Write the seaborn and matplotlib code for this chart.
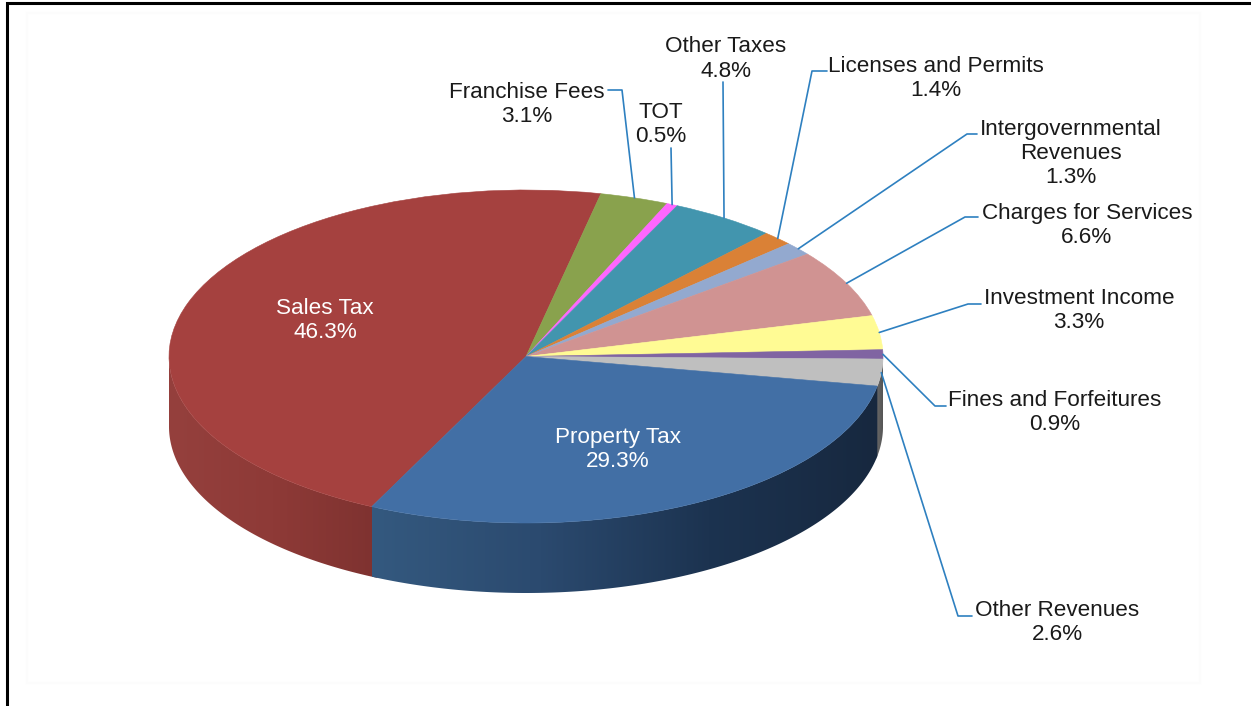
import numpy as np
import matplotlib
matplotlib.use("Agg")
import matplotlib.pyplot as plt
from matplotlib.patches import Polygon, Rectangle
import seaborn as sns

# values
categories = ["Sales Tax", "Franchise Fees", "TOT", "Other Taxes", "Licenses and Permits",
              "Intergovernmental\nRevenues", "Charges for Services", "Investment Income",
              "Fines and Forfeitures", "Other Revenues", "Property Tax"]
shares = [46.3, 3.1, 0.5, 4.8, 1.4, 1.3, 6.6, 3.3, 0.9, 2.6, 29.3]
slice_colors = ["#A5413F", "#89A24D", "#FF66FF", "#4295AE", "#DA8136", "#93A9CF",
                "#D09392", "#FFFB94", "#8064A2", "#BFBFBF", "#426FA5"]

# label centre (x, y of first line), in pixels
label_pos = {
    "Sales Tax": (325, 308),
    "Franchise Fees": (527, 92),
    "TOT": (661, 112),
    "Other Taxes": (726, 47),
    "Licenses and Permits": (936, 66.5),
    "Intergovernmental\nRevenues": (1071, 129),
    "Charges for Services": (1087, 213),
    "Investment Income": (1079, 298),
    "Fines and Forfeitures": (1055, 400),
    "Other Revenues": (1057, 610),
    "Property Tax": (618, 437),
}
# leader line: start and optional elbow, the end comes from the slice
leader_pts = {
    "Franchise Fees": [(608, 90), (622, 90)],
    "TOT": [(671, 148)],
    "Other Taxes": [(723, 82)],
    "Licenses and Permits": [(827, 71), (812, 71)],
    "Intergovernmental\nRevenues": [(977, 134), (967, 134)],
    "Charges for Services": [(978, 217), (965, 217)],
    "Investment Income": [(981, 304), (968, 304)],
    "Fines and Forfeitures": [(946, 406), (935, 406)],
    "Other Revenues": [(972, 616), (958, 616)],
}

W, H = 1251, 706
cx, cy, rx, ry = 526, 356.5, 357, 166.5
depth = 70
start = 244.4

sns.set_theme(style="white")
plt.rcParams["font.family"] = ["Liberation Sans", "DejaVu Sans"]

fig = plt.figure(figsize=(W / 100, H / 100), dpi=100, facecolor="white")


def px_axes(zorder):
    a = fig.add_axes([0, 0, 1, 1], zorder=zorder)
    a.set_xlim(0, W)
    a.set_ylim(H, 0)
    a.axis("off")
    a.patch.set_alpha(0)
    return a


wall_ax = px_axes(1)
ax = px_axes(3)

# frame and the faint plot area
wall_ax.add_patch(Rectangle((27, 13), 1173, 670, fc="none", ec="#FCFCFC", lw=1.5))
wall_ax.plot([6.5, 6.5, W], [H, 3, 3], color="black", lw=2.2, solid_joinstyle="miter")


def rim(t):
    t = np.radians(t)
    return cx + rx * np.cos(t), cy - ry * np.sin(t)


def wall(t0, t1, colors):
    t = np.linspace(t0, t1, 200)
    x, y = rim(t)
    pts = np.r_[np.c_[x, y], np.c_[x[::-1], y[::-1] + depth]]
    poly = Polygon(pts, closed=True, fc="none", ec="none")
    wall_ax.add_patch(poly)
    cmap = sns.blend_palette(colors, as_cmap=True)
    im = wall_ax.imshow(np.linspace(0, 1, 256)[None, :], cmap=cmap, aspect="auto",
                        extent=(x.min(), x.max(), H, 0), zorder=2)
    im.set_clip_path(poly)


# slice angles, clockwise from the start angle
edges = start - np.r_[0, np.cumsum(shares)] * 360 / sum(shares)
mids = (edges[:-1] + edges[1:]) / 2

# red runs a little under the blue so no seam shows between them
wall(180, start + 1, ["#95403D", "#8E3A37", "#7E3230"])
wall(edges[-2] + 359, 360, ["#6A6A6A", "#555555"])
wall(edges[-1] + 360, edges[-2] + 360, ["#34597F", "#2B4A6F", "#1C3350", "#17283F"])
wall_ax.set_xlim(0, W)
wall_ax.set_ylim(H, 0)

pie_ax = fig.add_axes([(cx - rx) / W, 1 - (cy + ry) / H, 2 * rx / W, 2 * ry / H], zorder=2)
wedges, _ = pie_ax.pie(shares, colors=sns.color_palette(slice_colors), startangle=start,
                       counterclock=False, radius=1)
for w in wedges:
    w.set_edgecolor(w.get_facecolor())
    w.set_linewidth(0.4)
pie_ax.set_aspect("auto")
pie_ax.set_xlim(-1, 1)
pie_ax.set_ylim(-1, 1)
pie_ax.patch.set_alpha(0)

# labels and leader lines
for name, val, mid in zip(categories, shares, mids):
    x, y = label_pos[name]
    inside = name in ("Sales Tax", "Property Tax")
    lines = name.split("\n") + [f"{val}%"]
    for i, line in enumerate(lines):
        ax.text(x, y + i * 24.3, line, ha="center", va="center", fontsize=16.2,
                color="white" if inside else "#1A1A1A")
    if name in leader_pts:
        ex, ey = rim(mid)
        pts = leader_pts[name] + [(ex, ey)]
        ax.plot([p[0] for p in pts], [p[1] for p in pts], color="#2E80C0", lw=1.2)

fig.savefig("out.png", dpi=100)
